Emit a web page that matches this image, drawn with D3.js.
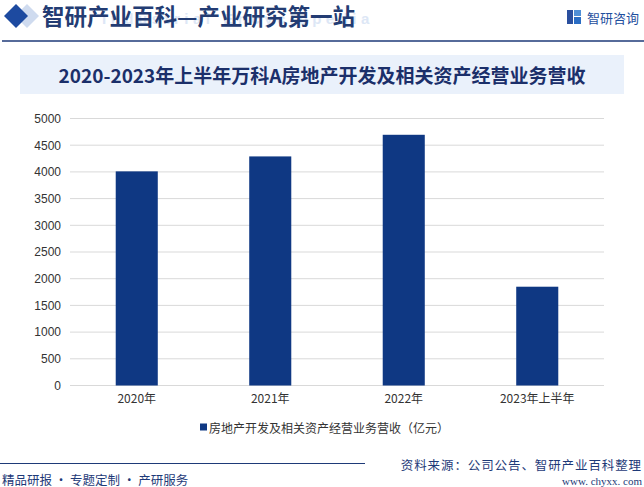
<!DOCTYPE html>
<html>
<head>
<meta charset="utf-8">
<script src="https://cdn.jsdelivr.net/npm/d3@7"></script>
<style>
  body { margin: 0; background: #fff; }
  svg text { font-family: "Noto Sans CJK SC", "Noto Sans", sans-serif; }
</style>
</head>
<body>
<div id="chart"></div>
<script>
var width = 644;
var height = 487;

var categories = ["2020年", "2021年", "2022年", "2023年上半年"];
var revenue = [4010, 4290, 4695, 1850];
var yTicks = [0, 500, 1000, 1500, 2000, 2500, 3000, 3500, 4000, 4500, 5000];
var title = "2020-2023年上半年万科A房地产开发及相关资产经营业务营收";
var legendLabel = "房地产开发及相关资产经营业务营收（亿元）";

var navy = "#0f3883";
var margin = { top: 118.5, right: 40, bottom: 102, left: 70 };

var svg = d3.select("#chart").append("svg")
  .attr("width", width)
  .attr("height", height);

// header
var head = svg.append("g");
head.append("path")
  .attr("d", "M27,4 L39,16 L27,28 L15,16 Z")
  .attr("fill", "#cfdbef");
head.append("path")
  .attr("d", "M16,4 L28,16 L16,28 L4,16 Z")
  .attr("fill", "#1d4aa0");
head.append("text")
  .attr("x", 102).attr("y", 24)
  .attr("font-size", 15).attr("font-weight", "bold")
  .attr("letter-spacing", 4.5)
  .attr("fill", "#dde7f6")
  .style("font-family", "Liberation Sans, sans-serif")
  .text("Industrial Encyclopedia");
head.append("text")
  .attr("x", 42).attr("y", 25)
  .attr("font-size", 22.5).attr("font-weight", "bold")
  .attr("fill", "#233c73")
  .text("智研产业百科—产业研究第一站");
head.append("line")
  .attr("x1", 2).attr("x2", 644).attr("y1", 41).attr("y2", 41)
  .attr("stroke", "#1e3a78").attr("stroke-width", 1.5);

// logo
var logo = svg.append("g").attr("transform", "translate(567,10)");
logo.append("rect").attr("x", 0).attr("y", 0).attr("width", 6).attr("height", 14).attr("fill", "#2a4f9e");
logo.append("rect").attr("x", 7).attr("y", 0).attr("width", 7).attr("height", 6).attr("fill", "#4f8fd6");
logo.append("rect").attr("x", 7).attr("y", 7).attr("width", 7).attr("height", 7).attr("fill", "#2a6dc4");
logo.append("text")
  .attr("x", 20).attr("y", 12.5)
  .attr("font-size", 13).attr("fill", "#1f4f9e")
  .text("智研咨询");

// title bar
svg.append("rect")
  .attr("x", 20).attr("y", 55).attr("width", 604).attr("height", 39)
  .attr("fill", "#eaf1fb");
svg.append("text")
  .attr("x", 322).attr("y", 74.5)
  .attr("text-anchor", "middle").attr("dominant-baseline", "central")
  .attr("font-size", 19).attr("font-weight", "bold")
  .attr("fill", "#1b2f6a")
  .text(title);

// chart
var x = d3.scaleBand()
  .domain(categories)
  .range([margin.left, width - margin.right])
  .paddingInner(0.685)
  .paddingOuter(0.3425);

var y = d3.scaleLinear()
  .domain([0, 5000])
  .range([385.5, margin.top]);

svg.append("g")
  .selectAll("line")
  .data(yTicks)
  .enter()
  .append("line")
  .attr("x1", margin.left).attr("x2", width - margin.right)
  .attr("y1", d => y(d)).attr("y2", d => y(d))
  .attr("stroke", "#d9d9d9").attr("stroke-width", 1);

var yAxis = svg.append("g")
  .attr("transform", "translate(" + (margin.left - 9) + ",0)")
  .call(d3.axisLeft(y).tickValues(yTicks).tickSize(0).tickPadding(0).tickFormat(d3.format("d")));
yAxis.select(".domain").remove();
yAxis.selectAll("text")
  .attr("font-size", 12).attr("fill", "#333")
  .style("font-family", "Liberation Sans, Arial, sans-serif");

svg.append("g")
  .selectAll("rect")
  .data(revenue)
  .enter()
  .append("rect")
  .attr("x", (d, i) => x(categories[i]))
  .attr("y", d => y(d))
  .attr("width", x.bandwidth())
  .attr("height", d => y(0) - y(d))
  .attr("fill", navy);

var xAxis = svg.append("g")
  .attr("transform", "translate(0,385.5)")
  .call(d3.axisBottom(x).tickSize(0).tickPadding(9));
xAxis.select(".domain").remove();
xAxis.selectAll("text")
  .attr("font-size", 12).attr("fill", "#333");

// legend
svg.append("rect")
  .attr("x", 200).attr("y", 423.5).attr("width", 7).attr("height", 7)
  .attr("fill", navy);
svg.append("text")
  .attr("x", 209).attr("y", 427)
  .attr("dominant-baseline", "central")
  .attr("font-size", 12).attr("fill", "#333")
  .text(legendLabel);

// footer
svg.append("line")
  .attr("x1", 0).attr("x2", 365).attr("y1", 463.5).attr("y2", 463.5)
  .attr("stroke", "#1e3a78").attr("stroke-width", 1.2);
svg.append("text")
  .attr("x", 2).attr("y", 479)
  .attr("dominant-baseline", "central")
  .attr("font-size", 12.5).attr("fill", "#1e3a78")
  .text("精品研报 · 专题定制 · 产研服务");
svg.append("text")
  .attr("x", 642).attr("y", 464)
  .attr("text-anchor", "end").attr("dominant-baseline", "central")
  .attr("font-size", 12.5).attr("fill", "#1e3a78")
  .attr("letter-spacing", 0.9)
  .text("资料来源：公司公告、智研产业百科整理");
svg.append("text")
  .attr("x", 642).attr("y", 481)
  .attr("text-anchor", "end").attr("dominant-baseline", "central")
  .attr("font-size", 11).attr("fill", "#1e3a78")
  .style("font-family", "Liberation Serif, serif")
  .text("www. chyxx. com");
</script>
</body>
</html>
